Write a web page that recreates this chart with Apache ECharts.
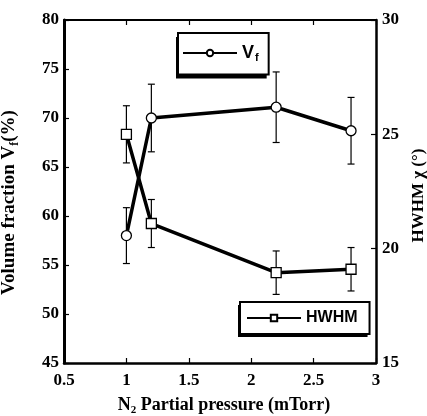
<!DOCTYPE html>
<html>
<head>
<meta charset="utf-8">
<script src="https://cdn.jsdelivr.net/npm/echarts@6/dist/echarts.min.js"></script>
<style>
  html, body { margin: 0; padding: 0; background: #fff; }
  #chart { width: 427px; height: 416px; }
</style>
</head>
<body>
<div id="chart"></div>
<script>
// N2 partial pressure (mTorr)
var pressure = [1.0, 1.2, 2.2, 2.8];
// volume fraction Vf (%) on the left axis, with error half-widths
var vfValues = [58.0, 70.0, 71.1, 68.7];
var vfErrors = [2.85, 3.45, 3.6, 3.4];
// HWHM chi (deg) on the right axis, with error half-widths
var hwhmValues = [25.0, 21.1, 18.95, 19.1];
var hwhmErrors = [1.25, 1.05, 0.95, 0.95];

var serif = "'Liberation Serif', 'DejaVu Serif', serif";
var sans = "'Liberation Sans', Arial, sans-serif";

// builds [x, low, high] rows for the error bar series
function errorRows(values, errors) {
    return pressure.map(function (x, i) {
        return [x, values[i] - errors[i], values[i] + errors[i]];
    });
}

// draws a vertical error bar with small caps
function renderErrorBar(params, api) {
    var top = api.coord([api.value(0), api.value(2)]);
    var bottom = api.coord([api.value(0), api.value(1)]);
    var half = 3.5;
    var style = { stroke: "#000", lineWidth: 1.2 };
    return {
        type: "group",
        children: [
            { type: "line", shape: { x1: top[0], y1: top[1], x2: bottom[0], y2: bottom[1] }, style: style },
            { type: "line", shape: { x1: top[0] - half, y1: top[1], x2: top[0] + half, y2: top[1] }, style: style },
            { type: "line", shape: { x1: bottom[0] - half, y1: bottom[1], x2: bottom[0] + half, y2: bottom[1] }, style: style }
        ]
    };
}

var tickLabel = { color: "#000", fontFamily: serif, fontWeight: "bold", fontSize: 17 };
var axisLine = { show: true, lineStyle: { color: "#000", width: 2.5 } };
var insideTick = { show: true, inside: true, length: 5, lineStyle: { color: "#000", width: 1.2 } };

var vfText = {
    formatter: function () { return "{v|V}{s|f}"; },
    rich: {
        v: { fontFamily: sans, fontWeight: "bold", fontSize: 18, color: "#000" },
        s: { fontFamily: sans, fontWeight: "bold", fontSize: 11, color: "#000", padding: [10, 0, 0, 1] }
    }
};

// one legend box: the white framed box, or its black offset shadow
function legendBox(name, left, top, padding, shadow) {
    var box = {
        data: [name],
        left: left,
        top: top,
        orient: "horizontal",
        padding: padding,
        backgroundColor: shadow ? "#000" : "#fff",
        borderColor: "#000",
        borderWidth: shadow ? 0 : 2,
        borderRadius: 0,
        itemWidth: 54,
        itemHeight: 8,
        itemGap: 4,
        selectedMode: false,
        z: shadow ? 3 : 4
    };
    if (name === "Vf") {
        box.formatter = vfText.formatter;
        box.textStyle = { rich: JSON.parse(JSON.stringify(vfText.rich)) };
    } else {
        box.textStyle = { fontFamily: sans, fontWeight: "bold", fontSize: 16, color: "#000" };
    }
    if (shadow) {
        box.itemStyle = { opacity: 0 };
        box.lineStyle = { opacity: 0 };
        box.textStyle.color = "rgba(0,0,0,0)";
        if (box.textStyle.rich) {
            box.textStyle.rich.v.color = "rgba(0,0,0,0)";
            box.textStyle.rich.s.color = "rgba(0,0,0,0)";
        }
    }
    return box;
}

var option = {
    animation: false,
    backgroundColor: "#fff",
    grid: { left: 64, right: 51, top: 20, bottom: 53, outerBoundsMode: "none" },
    legend: [
        legendBox("Vf", 176, 37, [11, 10, 11, 4], true),
        legendBox("Vf", 178, 33, [11, 10, 11, 4], false),
        legendBox("HWHM", 238, 305, [8, 12, 8, 6], true),
        legendBox("HWHM", 240, 302, [8, 12, 8, 6], false)
    ],
    xAxis: [
        {
            type: "value",
            min: 0.5,
            max: 3,
            interval: 0.5,
            position: "bottom",
            name: "N{s|2} Partial pressure (mTorr)",
            nameLocation: "middle",
            nameGap: 31,
            nameTextStyle: {
                color: "#000", fontFamily: serif, fontWeight: "bold", fontSize: 18,
                padding: [0, 0, 0, 8],
                rich: {
                    s: { color: "#000", fontFamily: serif, fontWeight: "bold", fontSize: 11, padding: [11, 0, 0, 0] }
                }
            },
            axisLine: axisLine,
            axisTick: insideTick,
            axisLabel: Object.assign({ margin: 9 }, tickLabel),
            splitLine: { show: false }
        },
        {
            type: "value",
            min: 0.5,
            max: 3,
            interval: 0.5,
            position: "top",
            axisLine: { show: true, lineStyle: { color: "#000", width: 2 } },
            axisTick: insideTick,
            axisLabel: { show: false },
            splitLine: { show: false }
        }
    ],
    yAxis: [
        {
            type: "value",
            min: 45,
            max: 80,
            interval: 5,
            position: "left",
            name: "Volume fraction V{s|f}(%)",
            nameLocation: "middle",
            nameGap: 43,
            nameRotate: 90,
            nameTextStyle: {
                color: "#000", fontFamily: serif, fontWeight: "bold", fontSize: 19,
                padding: [0, 22, 0, 0],
                rich: {
                    s: { color: "#000", fontFamily: serif, fontWeight: "bold", fontSize: 12, padding: [11, 0, 0, 0] }
                }
            },
            axisLine: { show: true, lineStyle: { color: "#000", width: 3 } },
            axisTick: insideTick,
            axisLabel: Object.assign({ margin: 5 }, tickLabel),
            splitLine: { show: false }
        },
        {
            type: "value",
            min: 15,
            max: 30,
            interval: 5,
            position: "right",
            name: "HWHM \u03c7 (\u00b0)",
            nameLocation: "middle",
            nameGap: 30,
            nameRotate: 90,
            nameTextStyle: { color: "#000", fontFamily: serif, fontWeight: "bold", fontSize: 17, padding: [0, 8, 0, 0] },
            axisLine: axisLine,
            axisTick: insideTick,
            axisLabel: Object.assign({ margin: 6 }, tickLabel),
            splitLine: { show: false }
        }
    ],
    series: [
        {
            name: "Vf",
            type: "line",
            yAxisIndex: 0,
            data: pressure.map(function (x, i) { return [x, vfValues[i]]; }),
            symbol: "circle",
            symbolSize: 10,
            showAllSymbol: true,
            lineStyle: { color: "#000", width: 3.5 },
            itemStyle: { color: "#fff", borderColor: "#000", borderWidth: 1.3 },
            z: 3
        },
        {
            name: "HWHM",
            type: "line",
            yAxisIndex: 1,
            data: pressure.map(function (x, i) { return [x, hwhmValues[i]]; }),
            symbol: "rect",
            symbolSize: 10,
            showAllSymbol: true,
            lineStyle: { color: "#000", width: 3.5 },
            itemStyle: { color: "#fff", borderColor: "#000", borderWidth: 1.3 },
            z: 3
        },
        {
            type: "custom",
            yAxisIndex: 0,
            renderItem: renderErrorBar,
            data: errorRows(vfValues, vfErrors),
            z: 2
        },
        {
            type: "custom",
            yAxisIndex: 1,
            renderItem: renderErrorBar,
            data: errorRows(hwhmValues, hwhmErrors),
            z: 2
        }
    ]
};

var chart = echarts.init(document.getElementById("chart"));
chart.setOption(option);

window.addEventListener("resize", function () {
    chart.resize();
});
</script>
</body>
</html>
